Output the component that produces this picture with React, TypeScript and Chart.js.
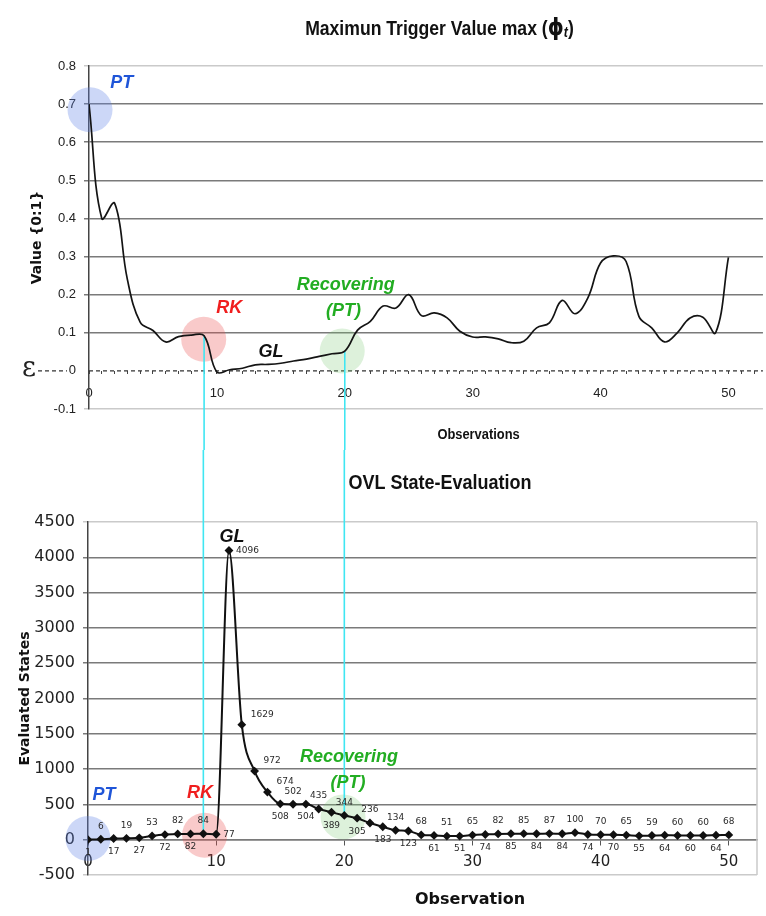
import React, { useEffect, useRef } from "react";
import { Chart, registerables } from "chart.js";

Chart.register(...registerables);

// ---------- data ----------
const observations = [
  0, 1, 2, 3, 4, 5, 6, 7, 8, 9, 10, 11, 12, 13, 14, 15, 16, 17, 18, 19, 20, 21, 22, 23, 24, 25,
  26, 27, 28, 29, 30, 31, 32, 33, 34, 35, 36, 37, 38, 39, 40, 41, 42, 43, 44, 45, 46, 47, 48, 49, 50,
];

// Maximum trigger value max(phi_t) per observation
const triggerValues = [
  0.7, 0.4, 0.44, 0.24, 0.128, 0.106, 0.076, 0.09, 0.094, 0.092,
  -0.003, 0.003, 0.007, 0.016, 0.017, 0.02, 0.026, 0.031, 0.038, 0.045,
  0.052, 0.107, 0.13, 0.17, 0.165, 0.2, 0.145, 0.152, 0.139, 0.104,
  0.089, 0.089, 0.084, 0.074, 0.078, 0.113, 0.126, 0.185, 0.15, 0.191,
  0.283, 0.302, 0.287, 0.143, 0.113, 0.076, 0.1, 0.139, 0.141, 0.1, 0.298,
];

// OVL evaluated states per observation
const evaluatedStates = [
  1, 6, 17, 19, 27, 53, 72, 82, 82, 84,
  77, 4096, 1629, 972, 674, 508, 502, 504, 435, 389,
  344, 305, 236, 183, 134, 123, 68, 61, 51, 51,
  65, 74, 82, 85, 85, 84, 87, 84, 100, 74,
  70, 70, 65, 55, 59, 64, 60, 60, 60, 64, 68,
];

const triggerRange = [-0.1, 0.8];
const statesRange = [-500, 4500];
const xMaxTop = 52.7;
const xMaxBottom = 52.2;

// observations linked across both charts (cyan guide lines)
const linkedObservations = [9, 20];

// annotations (data coordinates)
const topCircles = [
  { x: 0.08, y: 0.685, kind: "blue" },
  { x: 8.97, y: 0.083, kind: "red" },
  { x: 19.8, y: 0.052, kind: "green" },
];
const topNotes = [
  { x: 2.57, y: 0.756, text: "PT", kind: "blue" },
  { x: 10.97, y: 0.165, text: "RK", kind: "red" },
  { x: 14.24, y: 0.05, text: "GL", kind: "black" },
  { x: 20.08, y: 0.226, text: "Recovering", kind: "green" },
  { x: 19.9, y: 0.157, text: "(PT)", kind: "green" },
];
const bottomCircles = [
  { x: 0, y: 17, kind: "blue" },
  { x: 9.1, y: 64, kind: "red" },
  { x: 19.9, y: 323, kind: "green" },
];
const bottomNotes = [
  { x: 11.23, y: 4285, text: "GL", kind: "black" },
  { x: 1.25, y: 630, text: "PT", kind: "blue" },
  { x: 8.74, y: 660, text: "RK", kind: "red" },
  { x: 20.36, y: 1169, text: "Recovering", kind: "green" },
  { x: 20.28, y: 800, text: "(PT)", kind: "green" },
];

// ---------- styles ----------
const ARIAL = '"Liberation Sans", Arial, sans-serif';
const VERDANA = '"DejaVu Sans", Verdana, sans-serif';
const TEXT_COLORS: Record<string, string> = {
  blue: "#1f55d8",
  red: "#f01e1e",
  green: "#22ad22",
  black: "#111111",
};
const FILL_COLORS: Record<string, string> = {
  blue: "rgba(95,130,230,0.32)",
  red: "rgba(235,80,80,0.30)",
  green: "rgba(120,200,110,0.25)",
};
const CYAN = "#3fe6f2";

const near = (a: number, b: number) => Math.abs(a - b) < 1e-9;

function gridColor(c: any, zeroTransparent: boolean) {
  const s = c.scale;
  const v = c.tick ? c.tick.value : NaN;
  if (near(v, s.max) || near(v, s.min)) return "#cacaca";
  if (zeroTransparent && near(v, 0)) return "rgba(0,0,0,0)";
  return "#7a7a7a";
}

function drawSpans(
  ctx: CanvasRenderingContext2D,
  spans: { text: string; font: string; dy?: number }[],
  cx: number,
  cy: number,
  scaleX: number
) {
  ctx.save();
  let total = 0;
  spans.forEach((s) => {
    ctx.font = s.font;
    total += ctx.measureText(s.text).width;
  });
  ctx.translate(cx, cy);
  ctx.scale(scaleX, 1);
  ctx.fillStyle = "#111";
  ctx.textAlign = "left";
  ctx.textBaseline = "middle";
  let x = -total / 2;
  spans.forEach((s) => {
    ctx.font = s.font;
    ctx.fillText(s.text, x, s.dy || 0);
    x += ctx.measureText(s.text).width;
  });
  ctx.restore();
}

function drawRotated(ctx: CanvasRenderingContext2D, text: string, font: string, cx: number, cy: number) {
  ctx.save();
  ctx.translate(cx, cy);
  ctx.rotate(-Math.PI / 2);
  ctx.font = font;
  ctx.fillStyle = "#111";
  ctx.textAlign = "center";
  ctx.textBaseline = "middle";
  ctx.fillText(text, 0, 0);
  ctx.restore();
}

function drawCircles(chart: any, list: { x: number; y: number; kind: string }[]) {
  const { ctx, scales } = chart;
  list.forEach((c) => {
    ctx.save();
    ctx.beginPath();
    ctx.arc(scales.x.getPixelForValue(c.x), scales.y.getPixelForValue(c.y), 22.5, 0, Math.PI * 2);
    ctx.fillStyle = FILL_COLORS[c.kind];
    ctx.fill();
    ctx.restore();
  });
}

function drawNotes(chart: any, list: { x: number; y: number; text: string; kind: string }[]) {
  const { ctx, scales } = chart;
  list.forEach((n) => {
    ctx.save();
    ctx.font = `italic bold 18px ${ARIAL}`;
    ctx.fillStyle = TEXT_COLORS[n.kind];
    ctx.textAlign = "center";
    ctx.textBaseline = "middle";
    ctx.fillText(n.text, scales.x.getPixelForValue(n.x), scales.y.getPixelForValue(n.y));
    ctx.restore();
  });
}

function labelPlacement(i: number) {
  if (i === 10 || i === 11) return "right";
  if (i >= 12 && i <= 14) return "rightAbove";
  if (i < 10) return i % 2 === 0 ? "below" : "above";
  return i % 2 === 0 ? "above" : "below";
}

// ---------- plugins ----------
const topOverlay = {
  id: "topOverlay",
  beforeDatasetsDraw(chart: any) {
    const { ctx, chartArea: a, scales } = chart;
    const y0 = scales.y.getPixelForValue(0);
    ctx.save();
    ctx.strokeStyle = "#333";
    ctx.lineWidth = 1.2;
    ctx.setLineDash([4, 3]);
    ctx.beginPath();
    ctx.moveTo(a.left, y0);
    ctx.lineTo(a.right, y0);
    ctx.moveTo(a.left - 51, y0);
    ctx.lineTo(a.left - 22, y0);
    ctx.stroke();
    ctx.restore();

    drawCircles(chart, topCircles);

    linkedObservations.forEach((o) => {
      const i = observations.indexOf(o);
      const px = scales.x.getPixelForValue(o);
      const py = scales.y.getPixelForValue(triggerValues[i]);
      ctx.save();
      ctx.strokeStyle = CYAN;
      ctx.lineWidth = 1.6;
      ctx.beginPath();
      ctx.moveTo(px, py);
      ctx.lineTo(px, chart.height);
      ctx.stroke();
      ctx.restore();
    });
  },
  afterDatasetsDraw(chart: any) {
    drawNotes(chart, topNotes);
  },
  afterDraw(chart: any) {
    const { ctx, chartArea: a, scales } = chart;
    drawSpans(
      ctx,
      [
        { text: "Maximun Trigger Value max (", font: `bold 20px ${ARIAL}` },
        { text: "\u03D5", font: `bold 23px ${VERDANA}` },
        { text: "t", font: `italic bold 14px ${ARIAL}`, dy: 4 },
        { text: ")", font: `bold 20px ${ARIAL}` },
      ],
      a.left + a.width * 0.52,
      a.top - 37,
      0.88
    );
    drawSpans(ctx, [{ text: "Observations", font: `bold 14px ${ARIAL}` }], a.left + a.width * 0.578, a.bottom + 26, 0.92);
    drawRotated(ctx, "Value {0:1}", `bold 14px ${VERDANA}`, a.left - 52, (a.top + a.bottom) / 2);
    // epsilon marker for the zero threshold
    ctx.save();
    ctx.font = `27px "DejaVu Serif", serif`;
    ctx.fillStyle = "#222";
    ctx.textAlign = "center";
    ctx.textBaseline = "middle";
    ctx.fillText("\u03B5", a.left - 60, scales.y.getPixelForValue(0) - 2);
    ctx.restore();
  },
};

const bottomOverlay = {
  id: "bottomOverlay",
  beforeDatasetsDraw(chart: any) {
    const { ctx, chartArea: a, scales } = chart;
    ctx.save();
    ctx.strokeStyle = "#cacaca";
    ctx.lineWidth = 1.5;
    ctx.beginPath();
    ctx.moveTo(a.right, a.top);
    ctx.lineTo(a.right, a.bottom);
    ctx.stroke();
    ctx.restore();

    drawCircles(chart, bottomCircles);

    linkedObservations.forEach((o) => {
      const i = observations.indexOf(o);
      const px = scales.x.getPixelForValue(o);
      const py = scales.y.getPixelForValue(evaluatedStates[i]);
      ctx.save();
      ctx.strokeStyle = CYAN;
      ctx.lineWidth = 1.6;
      ctx.beginPath();
      ctx.moveTo(px, 0);
      ctx.lineTo(px, py);
      ctx.stroke();
      ctx.restore();
    });
  },
  afterDatasetsDraw(chart: any) {
    const { ctx } = chart;
    const meta = chart.getDatasetMeta(0);
    ctx.save();
    ctx.font = `9px ${VERDANA}`;
    ctx.fillStyle = "#2a2a2a";
    ctx.textBaseline = "middle";
    meta.data.forEach((pt: any, i: number) => {
      const place = labelPlacement(i);
      const text = String(evaluatedStates[i]);
      if (place === "above") {
        ctx.textAlign = "center";
        ctx.fillText(text, pt.x, pt.y - 13);
      } else if (place === "below") {
        ctx.textAlign = "center";
        ctx.fillText(text, pt.x, pt.y + 13);
      } else if (place === "right") {
        ctx.textAlign = "left";
        ctx.fillText(text, pt.x + 7, pt.y);
      } else {
        ctx.textAlign = "left";
        ctx.fillText(text, pt.x + 9, pt.y - 10);
      }
    });
    ctx.restore();
    drawNotes(chart, bottomNotes);
  },
  afterDraw(chart: any) {
    const { ctx, chartArea: a } = chart;
    drawSpans(ctx, [{ text: "OVL State-Evaluation", font: `bold 20px ${ARIAL}` }], a.left + a.width * 0.526, a.top - 39, 0.9);
    drawSpans(ctx, [{ text: "Observation", font: `bold 16px ${VERDANA}` }], a.left + a.width * 0.571, a.bottom + 25, 1);
    drawRotated(ctx, "Evaluated States", `bold 14px ${VERDANA}`, a.left - 63, (a.top + a.bottom) / 2);
  },
};

// ---------- component ----------
export default function App() {
  const topRef = useRef<HTMLCanvasElement>(null);
  const bottomRef = useRef<HTMLCanvasElement>(null);

  useEffect(() => {
    const top = new Chart(topRef.current as HTMLCanvasElement, {
      type: "line",
      data: {
        datasets: [
          {
            data: observations.map((o, i) => ({ x: o, y: triggerValues[i] })),
            borderColor: "#141414",
            borderWidth: 1.7,
            pointRadius: 0,
            tension: 0.4,
            fill: false,
          },
        ],
      },
      options: {
        animation: false,
        responsive: false,
        layout: { padding: { top: 66, bottom: 41, left: 0, right: 0 } },
        plugins: { legend: { display: false }, tooltip: { enabled: false }, title: { display: false } },
        scales: {
          x: {
            type: "linear",
            position: { y: 0 } as any,
            min: 0,
            max: xMaxTop,
            ticks: {
              stepSize: 1,
              autoSkip: false,
              includeBounds: false,
              maxRotation: 0,
              padding: 12,
              color: "#222",
              font: { family: ARIAL, size: 13 },
              callback: (v: any) => (Number(v) % 10 === 0 ? String(v) : ""),
            },
            grid: { display: true, drawOnChartArea: false, tickLength: 3, tickColor: "#444" },
            border: { display: false },
          },
          y: {
            min: triggerRange[0],
            max: triggerRange[1],
            afterFit: (s: any) => {
              s.width = 89;
            },
            ticks: {
              stepSize: 0.1,
              padding: 8,
              color: "#222",
              font: { family: ARIAL, size: 13 },
              callback: (v: any) => String(Number(Number(v).toFixed(1))),
            },
            grid: { color: (c: any) => gridColor(c, true), lineWidth: 1.5, tickLength: 5 },
            border: { color: "#444", width: 1.5 },
          },
        },
      },
      plugins: [topOverlay],
    } as any);

    const bottom = new Chart(bottomRef.current as HTMLCanvasElement, {
      type: "line",
      data: {
        datasets: [
          {
            data: observations.map((o, i) => ({ x: o, y: evaluatedStates[i] })),
            borderColor: "#111",
            borderWidth: 2,
            pointStyle: "rectRot",
            pointRadius: 3,
            pointBackgroundColor: "#111",
            pointBorderColor: "#111",
            cubicInterpolationMode: "monotone",
            fill: false,
          },
        ],
      },
      options: {
        animation: false,
        responsive: false,
        layout: { padding: { top: 72, bottom: 41, left: 0, right: 9 } },
        plugins: { legend: { display: false }, tooltip: { enabled: false }, title: { display: false } },
        scales: {
          x: {
            type: "linear",
            position: { y: 0 } as any,
            min: 0,
            max: xMaxBottom,
            ticks: {
              stepSize: 10,
              includeBounds: false,
              maxRotation: 0,
              padding: 8,
              color: "#222",
              font: { family: VERDANA, size: 15 },
              callback: (v: any) => String(v),
            },
            grid: { display: true, drawOnChartArea: false, tickLength: 5, tickColor: "#555" },
            border: { color: "#7a7a7a", width: 1.5 },
          },
          y: {
            min: statesRange[0],
            max: statesRange[1],
            afterFit: (s: any) => {
              s.width = 88;
            },
            ticks: {
              stepSize: 500,
              padding: 8,
              color: "#222",
              font: { family: VERDANA, size: 16 },
              callback: (v: any) => String(v),
            },
            grid: { color: (c: any) => gridColor(c, false), lineWidth: 1.5, tickLength: 5 },
            border: { color: "#444", width: 1.5 },
          },
        },
      },
      plugins: [bottomOverlay],
    } as any);

    return () => {
      top.destroy();
      bottom.destroy();
    };
  }, []);

  return (
    <div style={{ position: "absolute", left: 0, top: 0, width: 766, height: 916, background: "#fff" }}>
      <canvas ref={topRef} width={766} height={450} style={{ display: "block", width: 766, height: 450 }} />
      <canvas ref={bottomRef} width={766} height={466} style={{ display: "block", width: 766, height: 466 }} />
    </div>
  );
}
